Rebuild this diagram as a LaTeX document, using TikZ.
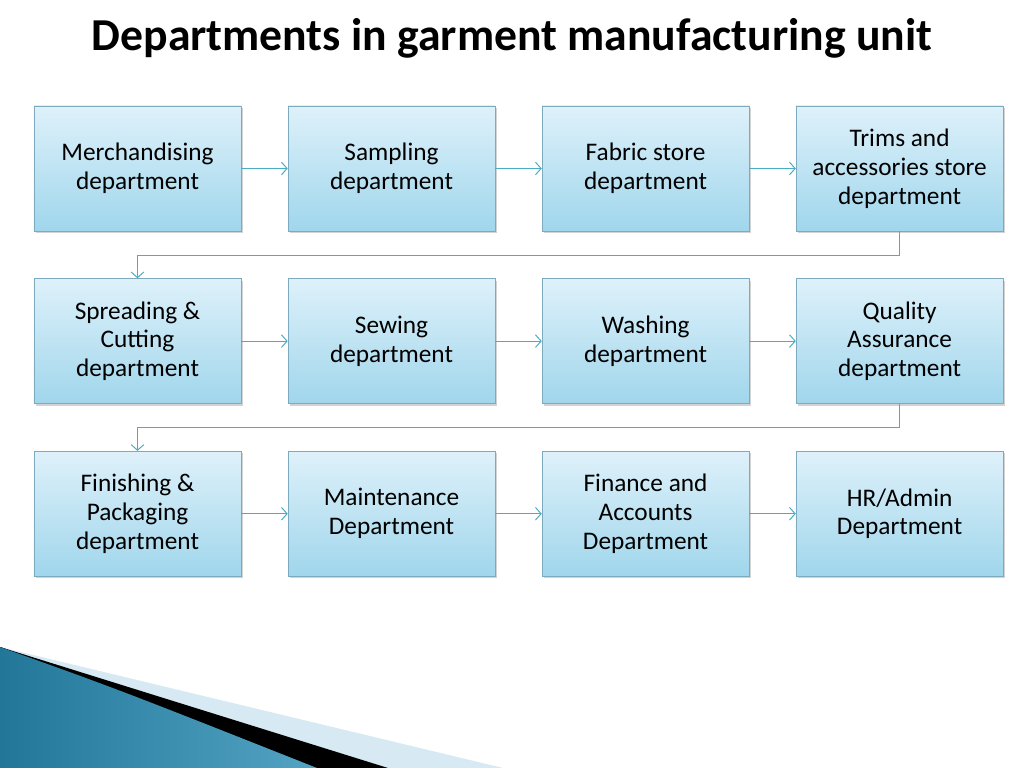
\documentclass[tikz,border=0pt]{standalone}
\usepackage{fontspec}
\setmainfont{Carlito}
\usetikzlibrary{positioning,shadows,arrows.meta}
\definecolor{boxtop}{RGB}{222,241,250}
\definecolor{boxbot}{RGB}{160,214,236}
\definecolor{boxline}{RGB}{125,170,190}
\definecolor{flow}{RGB}{75,172,198}
\definecolor{decoblue}{RGB}{40,140,180}
\definecolor{decolight}{RGB}{215,233,242}
\tikzset{
  dept/.style={rectangle,draw=boxline,top color=boxtop,bottom color=boxbot,
    minimum width=5.175cm,minimum height=3.125cm,align=center,
    font=\fontsize{18}{20.5}\selectfont,drop shadow={opacity=0.35,shadow xshift=0.05cm,shadow yshift=-0.05cm}},
  link/.style={draw=flow,-{Straight Barb[length=4pt,width=9pt]},line width=0.7pt}
}
\begin{document}
\begin{tikzpicture}[x=0.025cm,y=-0.025cm,node distance=1.175cm and 1.16cm]
\useasboundingbox (0,0) rectangle (1024,768);
% corner decoration
\fill[decolight] (0,647) -- (503,768) -- (0,768) -- cycle;
\fill[black] (0,647) -- (388,768) -- (0,768) -- cycle;
\fill[left color=decoblue!85!black,right color=decoblue!80!white] (0,647) .. controls (120,690) .. (317,768) -- (0,768) -- cycle;

\node[font=\fontsize{32.5}{38}\selectfont\bfseries] (title) at (512,38) {Departments in garment manufacturing unit};

% row one
\node[dept] (merch) at (137.5,168.5) {Merchandising\\department};
\node[dept,right=of merch] (samp) {Sampling\\department};
\node[dept,right=of samp] (fab) {Fabric store\\department};
\node[dept,right=of fab] (trim) {Trims and\\accessories store\\department};
% row two
\node[dept,below=of merch] (cut) {Spreading \&\\Cutting\\department};
\node[dept,right=of cut] (sew) {Sewing\\department};
\node[dept,right=of sew] (wash) {Washing\\department};
\node[dept,right=of wash] (qa) {Quality\\Assurance\\department};
% row three
\node[dept,below=of cut] (fin) {Finishing \&\\Packaging\\department};
\node[dept,right=of fin] (maint) {Maintenance\\Department};
\node[dept,right=of maint] (acc) {Finance and\\Accounts\\Department};
\node[dept,right=of acc] (hr) {HR/Admin\\Department};

\draw[link] (merch) -- (samp);
\draw[link] (samp) -- (fab);
\draw[link] (fab) -- (trim);
\draw[link] (trim.south) -- ++(0,24) -| (cut.north);
\draw[link] (cut) -- (sew);
\draw[link] (sew) -- (wash);
\draw[link] (wash) -- (qa);
\draw[link] (qa.south) -- ++(0,24) -| (fin.north);
\draw[link] (fin) -- (maint);
\draw[link] (maint) -- (acc);
\draw[link] (acc) -- (hr);
\end{tikzpicture}
\end{document}
